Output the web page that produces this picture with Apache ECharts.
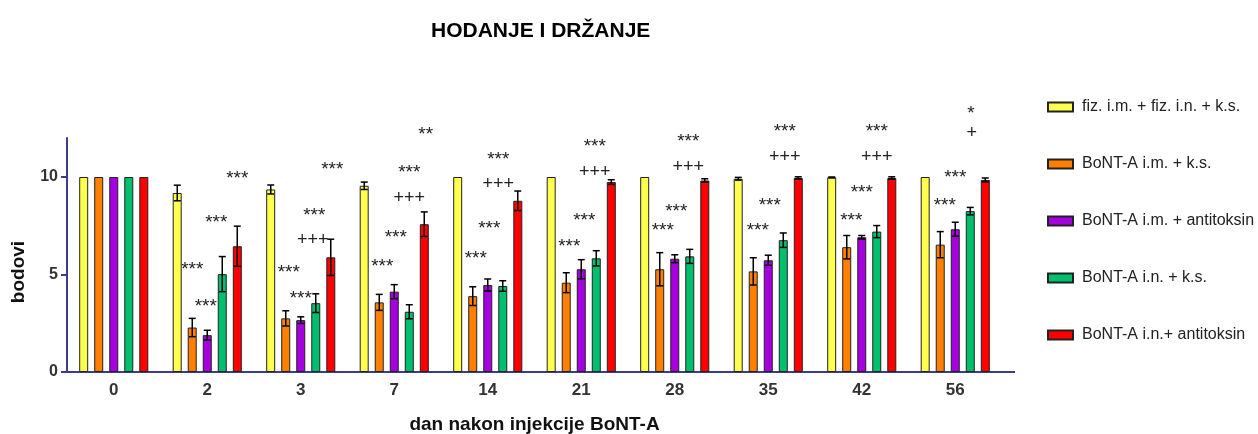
<!DOCTYPE html>
<html>
<head>
<meta charset="utf-8">
<script src="https://cdn.jsdelivr.net/npm/echarts@6/dist/echarts.min.js"></script>
<style>
  html, body { margin: 0; padding: 0; background: #ffffff; }
  #chart { width: 1258px; height: 434px; }
</style>
</head>
<body>
<div id="chart"></div>
<script>
// dani nakon injekcije
const categories = ['0', '2', '3', '7', '14', '21', '28', '35', '42', '56']
const seriesNames = [
  'fiz. i.m. + fiz. i.n. + k.s.',
  'BoNT-A i.m. + k.s.',
  'BoNT-A i.m. + antitoksin',
  'BoNT-A i.n. + k.s.',
  'BoNT-A i.n.+ antitoksin'
]
const colors = ['#ffff4d', '#ff8000', '#a600e0', '#00c070', '#ff0000']

// srednje vrijednosti
const fizMean = [10, 9.18, 9.36, 9.55, 10, 10, 10, 9.91, 9.98, 10]
const imKsMean = [10, 2.28, 2.75, 3.57, 3.89, 4.58, 5.27, 5.16, 6.4, 6.53]
const imAntiMean = [10, 1.89, 2.66, 4.12, 4.46, 5.27, 5.81, 5.73, 6.91, 7.32]
const inKsMean = [10, 5.02, 3.53, 3.09, 4.41, 5.83, 5.93, 6.76, 7.2, 8.25]
const inAntiMean = [10, 6.45, 5.88, 7.58, 8.78, 9.74, 9.82, 9.95, 9.95, 9.85]

// SEM
const fizErr = [0, 0.4, 0.23, 0.19, 0, 0, 0, 0.07, 0.02, 0]
const imKsErr = [0, 0.47, 0.39, 0.41, 0.48, 0.51, 0.85, 0.7, 0.6, 0.67]
const imAntiErr = [0, 0.25, 0.17, 0.36, 0.31, 0.49, 0.2, 0.26, 0.09, 0.36]
const inKsErr = [0, 0.9, 0.48, 0.36, 0.27, 0.39, 0.36, 0.37, 0.31, 0.19]
const inAntiErr = [0, 1.03, 0.93, 0.63, 0.5, 0.12, 0.09, 0.06, 0.06, 0.1]

const yTicks = [0, 5, 10]

// oznake znacajnosti: kategorija, stupac (0-4), visina, tekst
const annCat = [1, 1, 1, 1, 2, 2, 2, 2, 2, 3, 3, 3, 3, 3, 4, 4, 4, 4, 5, 5, 5, 5, 6, 6, 6, 6, 7, 7, 7, 7, 8, 8, 8, 8, 9, 9, 9, 9]
const annSlot = [1.0, 1.9, 2.6, 4.0, 1.2, 2.0, 2.8, 2.9, 4.1, 1.2, 2.1, 3.0, 3.0, 4.1, 1.2, 2.1, 2.7, 2.7, 1.2, 2.2, 2.9, 2.9, 1.2, 2.1, 2.9, 2.9, 1.3, 2.1, 3.1, 3.1, 1.3, 2.0, 3.0, 3.0, 1.3, 2.0, 3.1, 3.05]
const annY = [5.45, 3.55, 7.87, 10.1, 5.28, 3.98, 6.77, 8.23, 10.6, 5.58, 7.07, 8.92, 10.41, 12.35, 6.0, 7.53, 9.66, 11.1, 6.64, 7.94, 10.26, 11.75, 7.43, 8.4, 10.5, 12.0, 7.43, 8.73, 11.03, 12.52, 7.94, 9.38, 11.03, 12.52, 8.73, 10.17, 12.23, 13.43]
const annText = ['***', '***', '***', '***', '***', '***', '+++', '***', '***', '***', '***', '+++', '***', '**', '***', '***', '+++', '***', '***', '***', '+++', '***', '***', '***', '+++', '***', '***', '***', '+++', '***', '***', '***', '+++', '***', '***', '***', '+', '*']

const means = [fizMean, imKsMean, imAntiMean, inKsMean, inAntiMean]
const errs = [fizErr, imKsErr, imAntiErr, inKsErr, inAntiErr]

const BAR_W = 9
const PITCH = 15
const FONT = 'Liberation Sans, Arial, sans-serif'

const chart = echarts.init(document.getElementById('chart'))

const barSeries = means.map((m, i) => ({
  name: seriesNames[i],
  type: 'bar',
  barWidth: BAR_W,
  barGap: '67%',
  itemStyle: { color: colors[i], borderColor: '#222', borderWidth: 1 },
  data: m
}))

const errSeries = means.map((m, i) => ({
  type: 'custom',
  silent: true,
  z: 5,
  data: m.map((v, k) => [k, v, errs[i][k]]),
  renderItem: function (params, api) {
    const e = api.value(2)
    if (!e) return null
    const hi = api.coord([api.value(0), api.value(1) + e])
    const lo = api.coord([api.value(0), api.value(1) - e])
    const x = hi[0] + (i - 2) * PITCH
    const style = { stroke: '#000', lineWidth: 1.5 }
    return {
      type: 'group',
      children: [
        { type: 'line', shape: { x1: x, y1: hi[1], x2: x, y2: lo[1] }, style: style },
        { type: 'line', shape: { x1: x - 3.5, y1: hi[1], x2: x + 3.5, y2: hi[1] }, style: style },
        { type: 'line', shape: { x1: x - 3.5, y1: lo[1], x2: x + 3.5, y2: lo[1] }, style: style }
      ]
    }
  }
}))

const annSeries = {
  type: 'custom',
  silent: true,
  clip: false,
  z: 6,
  data: annCat.map((c, k) => [c, annY[k], annSlot[k]]),
  renderItem: function (params, api) {
    const p = api.coord([api.value(0), api.value(1)])
    const t = annText[params.dataIndex]
    const isStar = t.indexOf('*') >= 0
    return {
      type: 'text',
      x: p[0] + (api.value(2) - 2) * PITCH,
      y: p[1] + (isStar ? 4 : 0),
      style: {
        text: t,
        fill: '#222',
        font: (isStar ? '19px ' : '18px ') + FONT,
        align: 'center',
        verticalAlign: 'middle'
      }
    }
  }
}

chart.setOption({
  animation: false,
  title: {
    text: 'HODANJE I DRŽANJE',
    left: 426,
    top: 16,
    textStyle: { fontFamily: FONT, fontSize: 21, fontWeight: 'bold', color: '#000' }
  },
  legend: {
    orient: 'vertical',
    left: 1042,
    top: 94,
    itemWidth: 25,
    itemHeight: 9,
    itemGap: 41,
    icon: 'rect',
    data: seriesNames,
    textStyle: { fontFamily: FONT, fontSize: 16, color: '#222', padding: [0, 0, 0, 4] }
  },
  grid: { left: 67, right: 256, top: 138, bottom: 62, outerBoundsMode: 'none' },
  xAxis: {
    type: 'category',
    data: categories,
    name: 'dan nakon injekcije BoNT-A',
    nameLocation: 'middle',
    nameGap: 43,
    nameTextStyle: { fontFamily: FONT, fontSize: 19, fontWeight: 'bold', color: '#111' },
    axisLine: { lineStyle: { color: '#3c3c8c', width: 2 } },
    axisTick: { alignWithLabel: true, length: 5, lineStyle: { color: '#3c3c8c', width: 2 } },
    axisLabel: { fontFamily: FONT, fontSize: 17, fontWeight: 'bold', color: '#333', margin: 10 }
  },
  yAxis: {
    type: 'value',
    min: 0,
    max: 12,
    interval: 5,
    splitLine: { show: false },
    axisLine: { show: true, lineStyle: { color: '#3c3c8c', width: 2 } },
    axisTick: { show: true, length: 6, customValues: yTicks, lineStyle: { color: '#3c3c8c', width: 2 } },
    axisLabel: { fontFamily: FONT, fontSize: 16, fontWeight: 'bold', color: '#333', margin: 9, customValues: yTicks }
  },
  graphic: [
    // os x je na slici malo duza od zadnje kategorije
    { type: 'line', shape: { x1: 1002, y1: 372, x2: 1015, y2: 372 }, style: { stroke: '#3c3c8c', lineWidth: 2 } },
    {
      type: 'text',
      x: 19,
      y: 272,
      rotation: Math.PI / 2,
      style: { text: 'bodovi', font: 'bold 19px ' + FONT, fill: '#111', align: 'center', verticalAlign: 'middle' }
    }
  ],
  series: barSeries.concat(errSeries, [annSeries])
})
</script>
</body>
</html>
